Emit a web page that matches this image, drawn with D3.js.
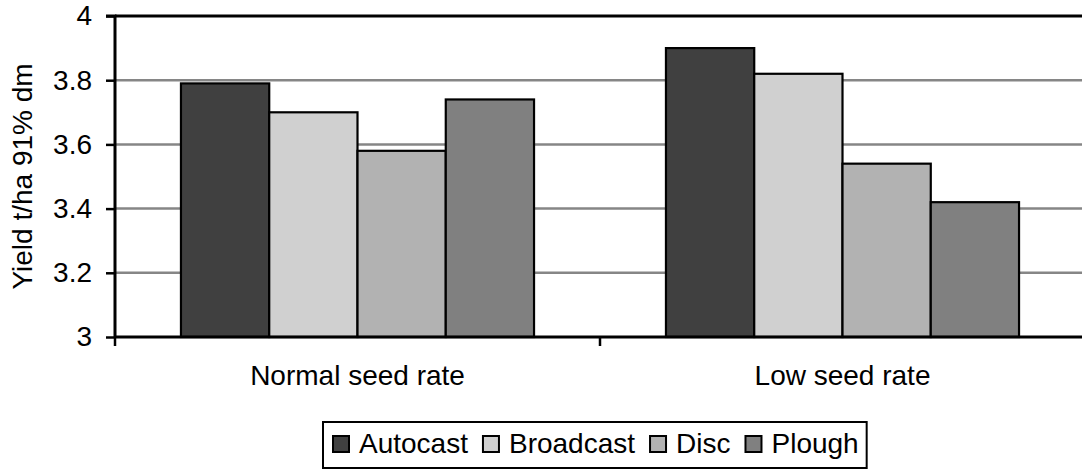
<!DOCTYPE html>
<html><head><meta charset="utf-8">
<script src="https://cdn.jsdelivr.net/npm/d3@7"></script>
<style>body{margin:0;background:#fff}svg{display:block;font-family:"Liberation Sans",Arial,sans-serif}</style>
</head><body><svg id="c" width="1082" height="470"></svg>
<script>
const categories = ["Normal seed rate", "Low seed rate"];
const seriesNames = ["Autocast", "Broadcast", "Disc", "Plough"];
const autocast = [3.79, 3.90];
const broadcast = [3.70, 3.82];
const disc = [3.58, 3.54];
const plough = [3.74, 3.42];
const yTicks = [3, 3.2, 3.4, 3.6, 3.8, 4];
const colors = ["#404040", "#d0d0d0", "#b2b2b2", "#808080"];
const seriesValues = [autocast, broadcast, disc, plough];

const svg = d3.select("#c");
const L = 115, R = 1085, T = 16, B = 337;
const x0 = d3.scaleBand().domain(categories).range([L, R]).paddingInner(0).paddingOuter(0);
const y = d3.scaleLinear().domain([3, 4]).range([B, T]);
const gap = x0.bandwidth() * 0.136;
const inner = d3.scaleBand().domain(seriesNames).range([gap, x0.bandwidth() - gap]).padding(0);

// gridlines
svg.append("g").selectAll("line").data(yTicks.filter(d => d > 3 && d < 4)).join("line")
  .attr("x1", L).attr("x2", R).attr("y1", d => y(d)).attr("y2", d => y(d))
  .attr("stroke", "#868686").attr("stroke-width", 2.5);
svg.append("line").attr("x1", L).attr("x2", R).attr("y1", y(4)).attr("y2", y(4))
  .attr("stroke", "#000").attr("stroke-width", 3);

// bars
categories.forEach((c, ci) => {
  seriesNames.forEach((s, si) => {
    const v = seriesValues[si][ci];
    svg.append("rect")
      .attr("x", x0(c) + inner(s)).attr("width", inner.bandwidth())
      .attr("y", y(v)).attr("height", y(3) - y(v))
      .attr("fill", colors[si]).attr("stroke", "#000").attr("stroke-width", 2.2);
  });
});

// y axis
const yAxis = d3.axisLeft(y).tickValues(yTicks).tickFormat(d3.format("~g")).tickSize(9).tickPadding(14);
const gy = svg.append("g").attr("transform", `translate(${L},0)`).call(yAxis);
gy.select(".domain").attr("stroke-width", 3).attr("d", `M-9,${T}H0V${B+1}`);
gy.selectAll(".tick line").attr("stroke-width", 2.5);
gy.selectAll("text").attr("font-size", 28).attr("fill", "#000").attr("font-family", "Liberation Sans, Arial, sans-serif");

// x axis
const xAxis = d3.axisBottom(x0).tickSize(0).tickPadding(0);
const gx = svg.append("g").attr("transform", `translate(0,${B})`).call(xAxis);
gx.select(".domain").attr("stroke-width", 3).attr("d", `M${L},0H${R}`);
gx.selectAll(".tick text").attr("font-size", 28).attr("fill", "#000").attr("dy", 0).attr("y", 48)
  .attr("font-family", "Liberation Sans, Arial, sans-serif");
// category separator ticks
svg.append("g").selectAll("line").data(categories.slice(1)).join("line")
  .attr("x1", d => x0(d)).attr("x2", d => x0(d)).attr("y1", B).attr("y2", B + 9)
  .attr("stroke", "#000").attr("stroke-width", 2.5);
svg.append("line").attr("x1", L).attr("x2", L).attr("y1", B).attr("y2", B + 9)
  .attr("stroke", "#000").attr("stroke-width", 2.5);

// y label
svg.append("text").attr("transform", `translate(32,${(T + B) / 2}) rotate(-90)`)
  .attr("text-anchor", "middle").attr("font-size", 28).text("Yield t/ha 91% dm");

// legend
const lg = svg.append("g");
const box = lg.append("rect").attr("x", 323).attr("y", 422).attr("height", 46)
  .attr("fill", "#fff").attr("stroke", "#000").attr("stroke-width", 2);
let cx = 333, endX = 0;
seriesNames.forEach((s, i) => {
  lg.append("rect").attr("x", cx).attr("y", 436).attr("width", 16).attr("height", 16)
    .attr("fill", colors[i]).attr("stroke", "#000").attr("stroke-width", 2);
  const t = lg.append("text").attr("x", cx + 26).attr("y", 453).attr("font-size", 28).text(s);
  endX = cx + 26 + t.node().getComputedTextLength();
  cx = endX + 15;
});
box.attr("width", endX + 8 - 323);
</script></body></html>
